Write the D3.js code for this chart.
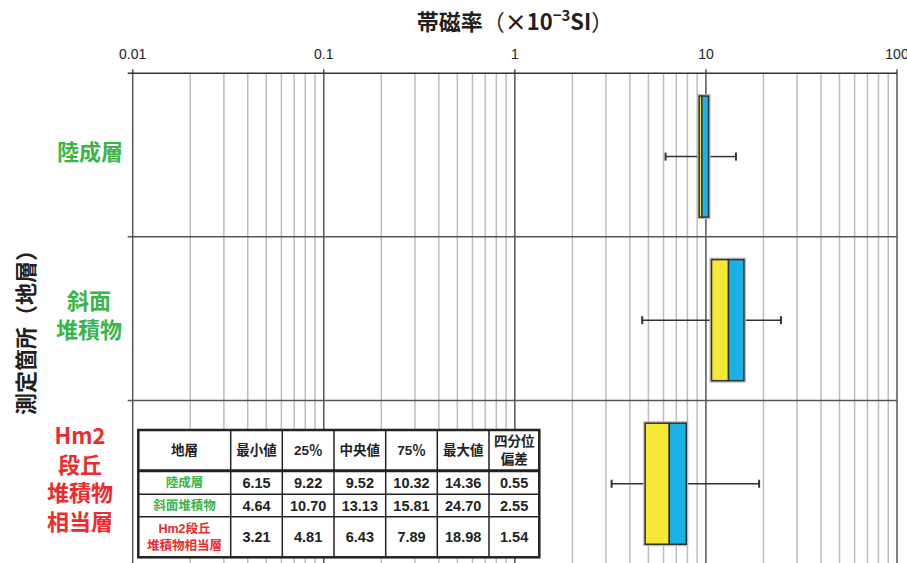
<!DOCTYPE html>
<html>
<head>
<meta charset="utf-8">
<script src="https://cdn.jsdelivr.net/npm/d3@7"></script>
<style>
  body { margin: 0; background: #fff; }
  svg { display: block; }
</style>
</head>
<body>
<svg id="chart" width="907" height="563"></svg>
<script>
// data
var layers = ["陸成層", "斜面堆積物", "Hm2段丘堆積物相当層"];
var axisLabels = [["陸成層"], ["斜面", "堆積物"], ["Hm2", "段丘", "堆積物", "相当層"]];
var tableLabels = [["陸成層"], ["斜面堆積物"], ["Hm2段丘", "堆積物相当層"]];
var layerColors = ["#3ab54a", "#3ab54a", "#ee2a2e"];
var minV = [6.15, 4.64, 3.21];
var q1V = [9.22, 10.70, 4.81];
var medV = [9.52, 13.13, 6.43];
var q3V = [10.32, 15.81, 7.89];
var maxV = [14.36, 24.70, 18.98];
var qdV = [0.55, 2.55, 1.54];
var headers = [["地層"], ["最小値"], ["25％"], ["中央値"], ["75％"], ["最大値"], ["四分位", "偏差"]];
var tickLabels = ["0.01", "0.1", "1", "10", "100"];

var svg = d3.select("#chart");
var plotL = 132.7, plotR = 897, plotT = 73.3, plotB = 564;

var x = d3.scaleLog().domain([0.01, 100]).range([plotL, plotR]);
var y = d3.scaleBand().domain(layers).range([plotT, plotB]);

var isMajor = function(v){ return Math.abs(Math.log10(v) - Math.round(Math.log10(v))) < 1e-6; };

// vertical grid
var grid = svg.append("g");
grid.selectAll("line.minor")
  .data(x.ticks().filter(function(v){ return !isMajor(v); }))
  .join("line")
  .attr("x1", function(d){ return x(d); }).attr("x2", function(d){ return x(d); })
  .attr("y1", plotT).attr("y2", plotB)
  .attr("stroke", "#bdbdbd").attr("stroke-width", 1.5);
grid.selectAll("line.major")
  .data(x.ticks().filter(isMajor))
  .join("line")
  .attr("x1", function(d){ return x(d); }).attr("x2", function(d){ return x(d); })
  .attr("y1", plotT - 4).attr("y2", plotB)
  .attr("stroke", "#555").attr("stroke-width", 1.5);

// horizontal separators between layers
grid.selectAll("line.sep")
  .data(layers.slice(1))
  .join("line")
  .attr("x1", plotL - 5).attr("x2", plotR)
  .attr("y1", function(d){ return y(d); }).attr("y2", function(d){ return y(d); })
  .attr("stroke", "#555").attr("stroke-width", 1.5);

// top axis line
svg.append("line")
  .attr("x1", plotL - 5).attr("x2", plotR)
  .attr("y1", plotT).attr("y2", plotT)
  .attr("stroke", "#333").attr("stroke-width", 1.5);

// tick labels
svg.append("g").selectAll("text")
  .data(x.ticks().filter(isMajor))
  .join("text")
  .attr("x", function(d){ return x(d); })
  .attr("y", 59)
  .attr("text-anchor", "middle")
  .attr("font-family", "Liberation Sans, Arial, sans-serif")
  .attr("font-size", 14)
  .attr("fill", "#222")
  .text(function(d, i){ return tickLabels[i]; });

// title
var title = svg.append("text")
  .attr("x", 515).attr("y", 30)
  .attr("text-anchor", "middle")
  .attr("font-family", "Noto Sans CJK JP, sans-serif")
  .attr("font-size", 22)
  .attr("font-weight", "bold")
  .attr("fill", "#231f20");
title.append("tspan").text("帯磁率");
title.append("tspan").attr("font-weight", "normal").text("（");
title.append("tspan").text("×10");
title.append("tspan").attr("font-size", 15).attr("dy", -9).text("−3");
title.append("tspan").attr("dy", 9).text("SI");
title.append("tspan").attr("font-weight", "normal").text("）");

// y axis title
svg.append("text")
  .attr("transform", "translate(34,327) rotate(-90)")
  .attr("text-anchor", "middle")
  .attr("font-family", "Noto Sans CJK JP, sans-serif")
  .attr("font-size", 22)
  .attr("font-weight", "bold")
  .attr("fill", "#231f20")
  .text("測定箇所（地層）");

// category labels
var labelCx = [90, 89, 80];
layers.forEach(function(l, i){
  var lines = axisLabels[i];
  var cy = y(l) + y.bandwidth() / 2;
  var lh = 28.5;
  var t = svg.append("text")
    .attr("text-anchor", "middle")
    .attr("font-family", "Noto Sans CJK JP, sans-serif")
    .attr("font-size", 22)
    .attr("font-weight", "bold")
    .attr("fill", layerColors[i]);
  lines.forEach(function(s, j){
    t.append("tspan")
      .attr("x", labelCx[i])
      .attr("y", cy - 3 + (j - (lines.length - 1) / 2) * lh + 8)
      .text(s);
  });
});

// box plots
var boxes = svg.append("g");
layers.forEach(function(l, i){
  var bh = y.bandwidth() * 0.74;
  var cy = y(l) + y.bandwidth() / 2 + 1.5;
  var g = boxes.append("g");
  // whiskers
  g.append("line").attr("x1", x(minV[i])).attr("x2", x(q1V[i]))
    .attr("y1", cy).attr("y2", cy).attr("stroke", "#333").attr("stroke-width", 1.5);
  g.append("line").attr("x1", x(q3V[i])).attr("x2", x(maxV[i]))
    .attr("y1", cy).attr("y2", cy).attr("stroke", "#333").attr("stroke-width", 1.5);
  [minV[i], maxV[i]].forEach(function(v){
    g.append("line").attr("x1", x(v)).attr("x2", x(v))
      .attr("y1", cy - 4).attr("y2", cy + 4)
      .attr("stroke", "#333").attr("stroke-width", 2);
  });
  // halo
  g.append("rect")
    .attr("x", x(q1V[i])).attr("y", cy - bh / 2)
    .attr("width", x(q3V[i]) - x(q1V[i])).attr("height", bh)
    .attr("fill", "none").attr("stroke", "#bbb").attr("stroke-width", 4);
  g.append("rect")
    .attr("x", x(q1V[i])).attr("y", cy - bh / 2)
    .attr("width", x(medV[i]) - x(q1V[i])).attr("height", bh)
    .attr("fill", "#f5e935").attr("stroke", "#333").attr("stroke-width", 1.5);
  g.append("rect")
    .attr("x", x(medV[i])).attr("y", cy - bh / 2)
    .attr("width", x(q3V[i]) - x(medV[i])).attr("height", bh)
    .attr("fill", "#1ab1e4").attr("stroke", "#333").attr("stroke-width", 1.5);
});

// summary table
var colX = [138.3, 230.7, 282.3, 334, 385.7, 437.3, 489, 539.3];
var rowY = [430, 470.7, 494.3, 516.7, 557.3];
var tbl = svg.append("g");
tbl.append("rect")
  .attr("x", colX[0]).attr("y", rowY[0])
  .attr("width", colX[7] - colX[0]).attr("height", rowY[4] - rowY[0])
  .attr("fill", "#fff");
colX.slice(1, 7).forEach(function(cx){
  tbl.append("line").attr("x1", cx).attr("x2", cx)
    .attr("y1", rowY[0]).attr("y2", rowY[4])
    .attr("stroke", "#222").attr("stroke-width", 1.5);
});
rowY.slice(1, 4).forEach(function(ry, k){
  tbl.append("line").attr("x1", colX[0]).attr("x2", colX[7])
    .attr("y1", ry).attr("y2", ry)
    .attr("stroke", "#222").attr("stroke-width", k === 0 ? 3 : 1.5);
});
tbl.append("rect")
  .attr("x", colX[0]).attr("y", rowY[0])
  .attr("width", colX[7] - colX[0]).attr("height", rowY[4] - rowY[0])
  .attr("fill", "none").attr("stroke", "#222").attr("stroke-width", 2.5);

function cellText(lines, ci, ri, color, size, weight){
  var cx = (colX[ci] + colX[ci + 1]) / 2;
  var cy = (rowY[ri] + rowY[ri + 1]) / 2;
  var lh = size + 4;
  var t = tbl.append("text")
    .attr("text-anchor", "middle")
    .attr("font-family", "Liberation Sans, Noto Sans CJK JP, sans-serif")
    .attr("font-size", size)
    .attr("font-weight", weight || "bold")
    .attr("fill", color);
  lines.forEach(function(s, j){
    t.append("tspan").attr("x", cx)
      .attr("y", cy + (j - (lines.length - 1) / 2) * lh + size * 0.36)
      .text(s);
  });
}
headers.forEach(function(h, ci){ cellText(h, ci, 0, "#222", 13.5); });
layers.forEach(function(l, i){
  cellText(tableLabels[i], 0, i + 1, layerColors[i], 12.5);
  [minV, q1V, medV, q3V, maxV, qdV].forEach(function(arr, k){
    cellText([arr[i].toFixed(2)], k + 1, i + 1, "#222", 14.5);
  });
});
</script>
</body>
</html>
